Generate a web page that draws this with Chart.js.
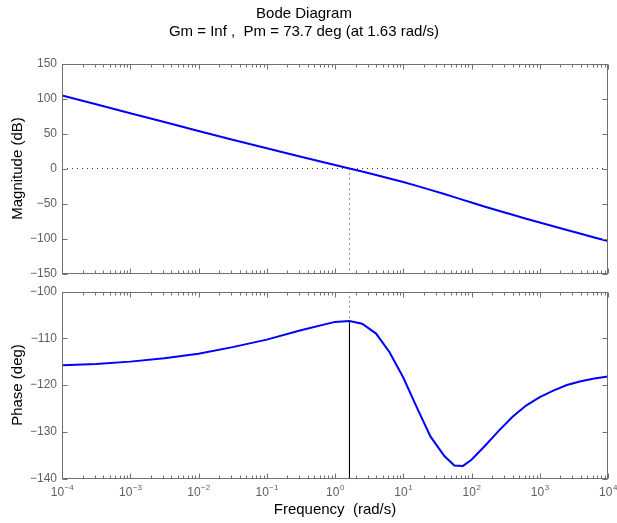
<!DOCTYPE html>
<html>
<head>
<meta charset="utf-8">
<title>Bode Diagram</title>
<script src="https://cdn.jsdelivr.net/npm/chart.js@4.4.0/dist/chart.umd.min.js"></script>
<style>
    html, body { margin: 0; padding: 0; background: #fff; }
    #wrap { position: relative; width: 617px; height: 523px; }
    #wrap canvas { position: absolute; left: 0; top: 0; }
</style>
</head>
<body>
<div id="wrap">
    <canvas id="magChart" width="617" height="523"></canvas>
    <canvas id="phaseChart" width="617" height="523"></canvas>
</div>
<script>
// Frequency samples (rad/s) and response
const freq = [1e-4, 3.16e-4, 1e-3, 3.16e-3, 1e-2, 3.16e-2, 0.1, 0.316, 1, 1.63,
    2.5, 4, 6.3, 10, 15.8, 25, 40, 56, 75, 100,
    158, 250, 400, 630, 1000, 1580, 2500, 4000, 6300, 10000];
const magDb = [104.5, 91.8, 79.0, 66.3, 53.7, 41.2, 28.8, 16.7, 4.9, 0.0,
    -4.4, -9.3, -14.2, -19.4, -24.8, -30.5, -36.5, -40.9, -44.8, -48.6,
    -54.6, -60.4, -66.1, -71.7, -77.2, -82.6, -87.9, -93.2, -98.5, -103.7];
const phaseDeg = [-115.8, -115.5, -115.0, -114.3, -113.3, -111.9, -110.3, -108.3, -106.5, -106.3,
    -106.9, -109.0, -113.0, -118.4, -124.8, -131.0, -135.2, -137.2, -137.3, -136.0,
    -133.0, -129.8, -126.8, -124.4, -122.6, -121.2, -120.0, -119.2, -118.6, -118.2];

// Margins from the title
const wc = 1.63;       // gain crossover (rad/s)
const pm = 73.7;       // phase margin (deg)

// Axes
const decadeTicks = [1e-4, 1e-3, 1e-2, 1e-1, 1e0, 1e1, 1e2, 1e3, 1e4];
const decadeExponents = ['\u22124', '\u22123', '\u22122', '\u22121', '0', '1', '2', '3', '4'];
const magTicks = [-150, -100, -50, 0, 50, 100, 150];
const phaseTicks = [-140, -130, -120, -110, -100];

const AXIS_GRAY = '#707070';
const LABEL_GRAY = '#606060';
const FONT = "'Liberation Sans', Arial, Helvetica, sans-serif";

const minorTicks = [];
decadeTicks.slice(0, -1).forEach(d => {
    for (let k = 2; k <= 9; k++) minorTicks.push(k * d);
});

const pts = (xs, ys) => xs.map((x, i) => ({ x: x, y: ys[i] }));
const minus = v => String(v).replace('-', '\u2212');

// MATLAB-like box with inward ticks on all four sides
const boxTicks = {
    id: 'boxTicks',
    afterDatasetsDraw(chart) {
        const { ctx, chartArea: a, scales } = chart;
        const L = Math.round(a.left) + 0.5, R = Math.round(a.right) - 0.5;
        const T = Math.round(a.top) + 0.5, B = Math.round(a.bottom) - 0.5;
        ctx.save();
        ctx.strokeStyle = AXIS_GRAY;
        ctx.lineWidth = 1;
        ctx.beginPath();
        decadeTicks.forEach(v => {
            const x = Math.round(scales.x.getPixelForValue(v)) + 0.5;
            ctx.moveTo(x, T); ctx.lineTo(x, T + 5);
            ctx.moveTo(x, B); ctx.lineTo(x, B - 5);
        });
        minorTicks.forEach(v => {
            const x = Math.round(scales.x.getPixelForValue(v)) + 0.5;
            ctx.moveTo(x, T); ctx.lineTo(x, T + 3);
            ctx.moveTo(x, B); ctx.lineTo(x, B - 3);
        });
        chart.options.plugins.boxTicks.yTicks.forEach(v => {
            const y = Math.round(scales.y.getPixelForValue(v)) + 0.5;
            ctx.moveTo(L, y); ctx.lineTo(L + 5, y);
            ctx.moveTo(R, y); ctx.lineTo(R - 5, y);
        });
        ctx.stroke();
        ctx.strokeRect(L, T, R - L, B - T);

        // "10" with raised exponent under each decade
        if (chart.options.plugins.boxTicks.xLabels) {
            ctx.fillStyle = LABEL_GRAY;
            ctx.textBaseline = 'alphabetic';
            ctx.textAlign = 'left';
            decadeTicks.forEach((v, i) => {
                const x = scales.x.getPixelForValue(v);
                ctx.font = '12px ' + FONT;
                const wBase = ctx.measureText('10').width;
                ctx.font = '8px ' + FONT;
                const wExp = ctx.measureText(decadeExponents[i]).width;
                const x0 = x - (wBase + wExp) / 2;
                ctx.font = '12px ' + FONT;
                ctx.fillText('10', x0, a.bottom + 17);
                ctx.font = '8px ' + FONT;
                ctx.fillText(decadeExponents[i], x0 + wBase + 0.5, a.bottom + 11);
            });
        }
        ctx.restore();
    }
};

function yAxis(min, max, step, title) {
    return {
        type: 'linear',
        min: min, max: max,
        grid: { display: false, drawTicks: false },
        border: { display: false },
        ticks: {
            stepSize: step,
            padding: 5,
            color: LABEL_GRAY,
            font: { family: FONT, size: 12 },
            callback: v => minus(v)
        },
        title: {
            display: true,
            text: title,
            color: '#000',
            font: { family: FONT, size: 15, lineHeight: 1.2 },
            padding: { top: 9, bottom: 0 }
        },
        afterFit: s => { s.width = 62; s.paddingTop = 0; s.paddingBottom = 0; }
    };
}

function xAxis(showTitle) {
    return {
        type: 'logarithmic',
        min: 1e-4, max: 1e4,
        grid: { display: false, drawTicks: false },
        border: { display: false },
        afterBuildTicks: s => { s.ticks = decadeTicks.map(v => ({ value: v })); },
        ticks: { display: false },
        title: {
            display: showTitle,
            text: 'Frequency  (rad/s)',
            color: '#000',
            font: { family: FONT, size: 15, lineHeight: 1.2 },
            padding: { top: 0, bottom: 4 }
        },
        afterFit: s => {
            s.height = showTitle ? 44.5 : 0;
            s.paddingLeft = 0; s.paddingRight = 0;
        }
    };
}

const baseOptions = {
    responsive: false,
    animation: false,
    events: [],
    elements: { point: { radius: 0 } }
};

new Chart(document.getElementById('magChart'), {
    type: 'line',
    data: {
        datasets: [
            { data: pts(freq, magDb), borderColor: '#0000ff', borderWidth: 2, tension: 0 },
            { data: pts([1e-4, 1e4], [0, 0]), borderColor: '#333', borderWidth: 1, borderDash: [1, 4] },
            { data: pts([wc, wc], [0, -150]), borderColor: '#333', borderWidth: 1, borderDash: [1, 4] }
        ]
    },
    options: Object.assign({}, baseOptions, {
        layout: { padding: { left: 0, right: 9, top: 0, bottom: 249.5 } },
        plugins: {
            legend: { display: false },
            tooltip: { enabled: false },
            title: {
                display: true,
                text: ['Bode Diagram', 'Gm = Inf ,  Pm = ' + pm + ' deg (at ' + wc + ' rad/s)'],
                color: '#000',
                font: { family: FONT, size: 15, weight: 'normal', lineHeight: 1.2 },
                padding: { top: 5, bottom: 22.5 }
            },
            boxTicks: { yTicks: magTicks, xLabels: false }
        },
        scales: { x: xAxis(false), y: yAxis(-150, 150, 50, 'Magnitude (dB)') }
    }),
    plugins: [boxTicks]
});

new Chart(document.getElementById('phaseChart'), {
    type: 'line',
    data: {
        datasets: [
            { data: pts(freq, phaseDeg), borderColor: '#0000ff', borderWidth: 2, tension: 0 },
            { data: pts([wc, wc], [-100, pm - 180]), borderColor: '#333', borderWidth: 1, borderDash: [1, 4] },
            { data: pts([wc, wc], [pm - 180, -140]), borderColor: '#000', borderWidth: 1 }
        ]
    },
    options: Object.assign({}, baseOptions, {
        layout: { padding: { left: 0, right: 9, top: 291.5, bottom: 0 } },
        plugins: {
            legend: { display: false },
            tooltip: { enabled: false },
            boxTicks: { yTicks: phaseTicks, xLabels: true }
        },
        scales: { x: xAxis(true), y: yAxis(-140, -100, 10, 'Phase (deg)') }
    }),
    plugins: [boxTicks]
});
</script>
</body>
</html>
